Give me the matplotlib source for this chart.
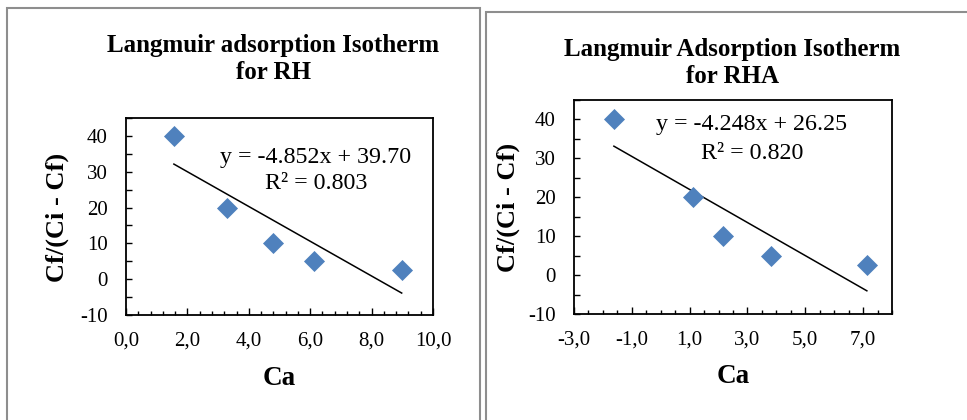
import numpy as np
import matplotlib.pyplot as plt
from matplotlib.patches import Rectangle
from matplotlib.ticker import MultipleLocator, FuncFormatter

# values
rh_ca = [1.56, 3.28, 4.80, 6.13, 8.98]
rh_q = [40, 20, 10, 5, 2.5]
rh_fit = (-4.852, 39.70)
rh_r2 = 0.803

rha_ca = [-1.62, 1.10, 2.15, 3.83, 7.13]
rha_q = [40, 20, 10, 5, 2.5]
rha_fit = (-4.248, 26.25)
rha_r2 = 0.820

W, H = 967, 420
plt.rcParams['font.family'] = ['Liberation Serif', 'DejaVu Serif']
plt.rcParams['axes.unicode_minus'] = False

fig = plt.figure(figsize=(W / 100, H / 100), dpi=100)


def fx(x):
    return x / W


def fy(y):
    return 1 - y / H


def box(l, t, r, b):
    return [fx(l), fy(b), fx(r) - fx(l), fy(t) - fy(b)]


# grey chart frames
for l, t, r, b in [(7, 8, 480, 440), (486, 12, 990, 440)]:
    fig.add_artist(Rectangle((fx(l), fy(b)), fx(r) - fx(l), fy(t) - fy(b),
                             transform=fig.transFigure, fill=False,
                             edgecolor='#8e8e8e', linewidth=1.5))

comma = FuncFormatter(lambda v, p: ('%.1f' % v).replace('.', ','))


def panel(rect, ca, q, fit, r2, xlim, xmajor, xminor, title, tx, ty, eq_x, eq_y, eq_gap,
          ylab_x, ylab_y, xlab_y):
    ax = fig.add_axes(rect)
    ax.scatter(ca, q, marker='D', s=115, color='#4f81bd', zorder=3, linewidths=0)
    xs = np.array([ca[0], ca[-1]])
    ax.plot(xs, fit[0] * xs + fit[1], color='black', lw=1.1, zorder=2)
    ax.set_xlim(*xlim)
    ax.set_ylim(-10, 45)
    ax.xaxis.set_minor_locator(MultipleLocator(xminor))
    ax.set_xticks(np.arange(xlim[0], xlim[1] + 0.01, xmajor))
    ax.xaxis.set_major_formatter(comma)
    ax.set_yticks([-10, 0, 10, 20, 30, 40])
    ax.yaxis.set_minor_locator(MultipleLocator(5))
    ax.tick_params(axis='both', which='both', direction='in', labelsize=15)
    ax.tick_params(axis='x', which='major', length=5, width=1, pad=12)
    ax.tick_params(axis='x', which='minor', length=3, width=1)
    ax.tick_params(axis='y', which='both', length=4, width=1, pad=13)
    for s in ax.spines.values():
        s.set_linewidth(1.3)
    fig.text(fx(tx), fy(ty), title, ha='center', va='baseline',
             fontsize=18, fontweight='bold', linespacing=1.2)
    sign = '+' if fit[1] >= 0 else '-'
    fig.text(fx(eq_x), fy(eq_y), 'y = %.3fx %s %.2f' % (fit[0], sign, abs(fit[1])),
             ha='center', va='baseline', fontsize=17.3)
    fig.text(fx(eq_x), fy(eq_y + eq_gap), 'R² = %.3f' % r2,
             ha='center', va='baseline', fontsize=17.3)
    fig.text(fx(ylab_x), fy(ylab_y), 'Cf/(Ci - Cf)', rotation=90, ha='center', va='center',
             fontsize=19, fontweight='bold')
    fig.text(fx((rect[0] + rect[2] / 2) * W), fy(xlab_y), 'Ca', ha='center', va='baseline',
             fontsize=19.5, fontweight='bold')
    return ax


panel(box(126, 118, 433, 315), rh_ca, rh_q, rh_fit, rh_r2, (0, 10), 2, 0.4,
      'Langmuir adsorption Isotherm\nfor RH', 273, 79, 316, 163, 26, 57, 217, 385)
panel(box(574, 100, 892, 314), rha_ca, rha_q, rha_fit, rha_r2, (-3, 8), 2, 0.5,
      'Langmuir Adsorption Isotherm\nfor RHA', 732, 83, 752, 130, 29, 508, 207, 383)

fig.savefig('out.png', dpi=100)
